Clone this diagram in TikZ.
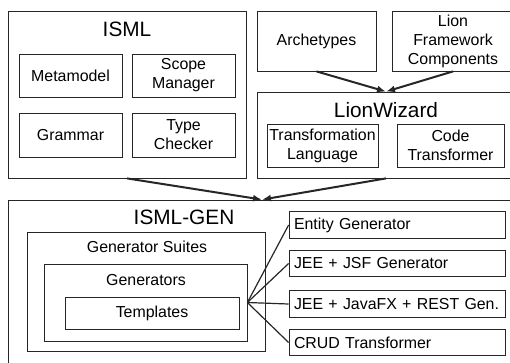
\documentclass[tikz,border=0pt]{standalone}
\usepackage{fontspec}
\setmainfont{Liberation Sans}
\usetikzlibrary{arrows.meta}
\tikzset{
  box/.style={draw=black!85, line width=0.8pt, inner sep=1pt, align=center,
    font=\fontsize{15.9}{19}\selectfont},
  title/.style={inner sep=0pt, font=\fontsize{20.8}{24}\selectfont},
  sublabel/.style={inner sep=0pt, font=\fontsize{15.9}{19}\selectfont},
  genbox/.style={box, minimum width=216pt, minimum height=26.5pt,
    text width=206pt, inner xsep=5pt, align=left},
  flow/.style={line width=2pt, black!85, -{Latex[length=9pt,width=7pt]}},
  fan/.style={line width=1.2pt, black!85},
}
\begin{document}
\begin{tikzpicture}[x=1pt, y=-1pt]
\useasboundingbox (0,0) rectangle (510,362);
\clip (0,0) rectangle (510,362);

% ISML language block
\node[box, minimum width=238pt, minimum height=167pt] (isml) at (127,94.5) {};
\node[title] (ismlT) at (127,29) {ISML};
\node[box, minimum width=103pt, minimum height=43pt] (meta) at (70.5,75.5) {Metamodel};
\node[box, minimum width=103pt, minimum height=43pt] (scope) at (183.5,75.5) {Scope\\Manager};
\node[box, minimum width=103pt, minimum height=44pt] (gram) at (70.5,135) {Grammar};
\node[box, minimum width=103pt, minimum height=44pt] (type) at (183.5,135) {Type\\Checker};

% Lion inputs and wizard
\node[box, minimum width=119pt, minimum height=60pt] (arch) at (316.5,41) {Archetypes};
\node[box, minimum width=122pt, minimum height=60pt] (lfc) at (453,41) {Lion\\Framework\\Components};
\node[box, minimum width=258pt, minimum height=86pt] (lw) at (386,135) {};
\node[title] (lwT) at (386,110.5) {LionWizard};
\node[box, minimum width=111pt, minimum height=43pt] (tl) at (322.5,145.5) {Transformation\\Language};
\node[box, minimum width=107pt, minimum height=43pt] (ct) at (450.5,145.5) {Code\\Transformer};

% ISML-GEN block
\node[box, minimum width=508pt, minimum height=172pt] (gen) at (262,286) {};
\node[title] (genT) at (184,217) {ISML-GEN};
\node[box, minimum width=238pt, minimum height=119pt] (suites) at (146,291.5) {};
\node[sublabel] (suitesT) at (147,247) {Generator Suites};
\node[box, minimum width=203pt, minimum height=77pt] (gens) at (145.5,302.5) {};
\node[sublabel] (gensT) at (146,280) {Generators};
\node[box, minimum width=174pt, minimum height=32pt] (templ) at (152,313) {Templates};

\node[genbox] (ent) at (397,225) {Entity Generator};
\node[genbox] (jsf) at (397,263.5) {JEE + JSF Generator};
\node[genbox] (jfx) at (397,304) {JEE + JavaFX + REST Gen.};
\node[genbox] (crud) at (397,342.5) {CRUD Transformer};

% connectors
\draw[flow] (arch.south) -- (lw.north);
\draw[flow] (lfc.south) -- (lw.north);
\draw[flow] (isml.south) -- (gen.north);
\draw[flow] (lw.south) -- (gen.north);
\foreach \t in {ent,jsf,jfx,crud}
  \draw[fan] (gens.east) -- (\t.west);
\end{tikzpicture}
\end{document}
